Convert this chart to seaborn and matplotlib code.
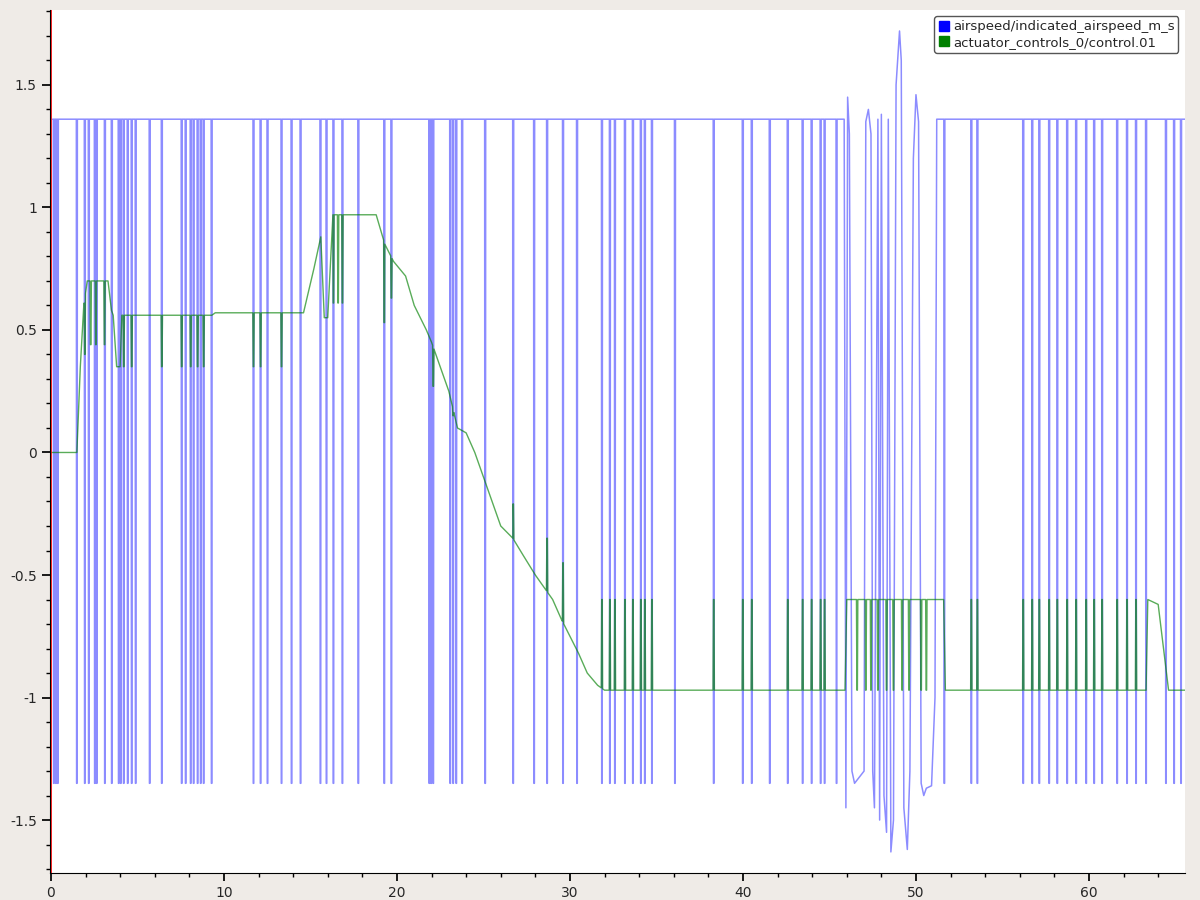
import numpy as np
import matplotlib
matplotlib.use("Agg")
import matplotlib.pyplot as plt
import seaborn as sns
from matplotlib.ticker import MultipleLocator, FuncFormatter
from matplotlib.lines import Line2D

# ---- data ----
blue_high = 1.36
blue_low = -1.35
blue_pulses = [0.17, 0.29, 0.40, 1.50, 1.96, 2.19, 2.54, 2.65, 3.12, 3.52, 3.92, 4.04, 4.21, 4.44,
               4.67, 4.90, 5.71, 6.41, 7.56, 7.79, 8.08, 8.25, 8.48, 8.66, 8.83, 9.29, 11.71, 12.12,
               12.52, 13.33, 13.91, 14.43, 15.58, 15.93, 16.33, 16.85, 17.77, 19.27, 19.68, 21.87,
               21.98, 22.10, 23.08, 23.25, 23.43, 23.77, 25.10, 26.72, 27.93, 28.68, 29.60, 30.41,
               31.85, 32.31, 32.60, 33.18, 33.64, 34.10, 34.33, 34.74, 36.07, 38.31, 39.99, 40.51,
               41.55, 42.59, 43.45, 43.97, 44.49, 44.72, 45.41, 51.64, 53.20, 53.55, 56.20, 56.72,
               57.13, 57.70, 58.17, 58.74, 59.26, 59.84, 60.30, 60.76, 61.63, 62.20, 62.72, 63.30,
               64.45, 64.92, 65.32]
osc_t = [45.85, 45.95, 46.05, 46.15, 46.3, 46.45, 47.0, 47.1, 47.25, 47.4, 47.5, 47.6, 47.8, 47.9,
         48.0, 48.15, 48.3, 48.4, 48.55, 48.7, 48.85, 49.05, 49.15, 49.3, 49.5, 49.65, 49.85, 50.0,
         50.15, 50.3, 50.45, 50.6, 50.9, 51.1, 51.2]
osc_v = [1.36, -1.45, 1.45, 1.3, -1.3, -1.35, -1.3, 1.35, 1.40, 1.30, -1.3, -1.45, 1.36, -1.5,
         1.38, -1.4, -1.55, 1.36, -1.63, -1.5, 1.5, 1.72, 1.6, -1.45, -1.62, -1.3, 1.2, 1.46,
         1.35, -1.35, -1.40, -1.37, -1.36, -1.0, 1.36]

green_t = [0, 1.5, 1.7, 1.9, 2.1, 3.3, 3.5, 3.6, 3.8, 4.0, 4.1, 9.3, 9.5, 14.3, 14.6, 15.2, 15.6,
           15.8, 16.0, 16.3, 18.8, 19.3, 19.8, 20.5, 21.0, 21.7, 22.0, 22.5, 23.0, 23.5, 24.0,
           24.5, 25.0, 25.5, 26.0, 26.7, 27.3, 28.0, 28.5, 29.0, 29.5, 30.0, 30.5, 31.0, 31.6,
           32.0, 45.9, 46.0, 51.6, 51.7, 63.3, 63.4, 64.0, 64.6, 65.6]
green_v = [0, 0, 0.35, 0.6, 0.7, 0.7, 0.58, 0.56, 0.35, 0.35, 0.56, 0.56, 0.57, 0.57, 0.57, 0.75,
           0.88, 0.55, 0.55, 0.97, 0.97, 0.85, 0.78, 0.72, 0.6, 0.5, 0.45, 0.35, 0.25, 0.1, 0.08,
           0.0, -0.1, -0.2, -0.3, -0.35, -0.42, -0.5, -0.55, -0.6, -0.68, -0.75, -0.82, -0.9,
           -0.95, -0.97, -0.97, -0.6, -0.6, -0.97, -0.97, -0.6, -0.62, -0.97, -0.97]
green_spike_t = [1.96, 2.3, 2.6, 3.1, 4.21, 4.67, 6.41, 7.56, 8.08, 8.48, 8.83, 11.71, 12.12, 13.33,
                 16.33, 16.6, 16.85, 19.27, 19.68, 22.10, 23.25, 26.72, 28.68, 29.60,
                 31.85, 32.31, 32.60, 33.18, 33.64, 34.10, 34.33, 34.74, 38.31, 39.99, 40.51,
                 42.59, 43.45, 43.97, 44.49, 44.72, 46.6, 47.1, 47.4, 47.8, 48.3, 48.7, 49.2,
                 49.6, 50.3, 50.6, 53.20, 53.55, 56.20, 56.72, 57.13, 57.70, 58.17, 58.74, 59.26,
                 59.84, 60.30, 60.76, 61.63, 62.20, 62.72]
green_spike_v = [0.4, 0.44, 0.44, 0.44, 0.35, 0.35, 0.35, 0.35, 0.35, 0.35, 0.35, 0.35, 0.35, 0.35,
                 0.61, 0.61, 0.61, 0.53, 0.63, 0.27, 0.15, -0.21, -0.35, -0.45,
                 -0.6, -0.6, -0.6, -0.6, -0.6, -0.6, -0.6, -0.6, -0.6, -0.6, -0.6,
                 -0.6, -0.6, -0.6, -0.6, -0.6, -0.97, -0.97, -0.97, -0.97, -0.97, -0.97, -0.97,
                 -0.97, -0.97, -0.97, -0.6, -0.6, -0.6, -0.6, -0.6, -0.6, -0.6, -0.6, -0.6,
                 -0.6, -0.6, -0.6, -0.6, -0.6, -0.6]
legend_labels = ["airspeed/indicated_airspeed_m_s", "actuator_controls_0/control.01"]

# ---- build series ----
bt, bv = [0.1], [blue_high]
for p in blue_pulses:
    bt += [p - 0.03, p - 0.015, p + 0.015, p + 0.03]
    bv += [blue_high, blue_low, blue_low, blue_high]
bt += osc_t
bv += osc_v
bt.append(65.6); bv.append(blue_high)
order = np.argsort(bt, kind="stable")
bt = np.array(bt)[order]; bv = np.array(bv)[order]

gt, gv = list(green_t), list(green_v)
for t, v in zip(green_spike_t, green_spike_v):
    base_l = float(np.interp(t - 0.04, green_t, green_v))
    base_r = float(np.interp(t + 0.04, green_t, green_v))
    gt += [t - 0.04, t - 0.015, t + 0.015, t + 0.04]
    gv += [base_l, v, v, base_r]
order = np.argsort(gt, kind="stable")
gt = np.array(gt)[order]; gv = np.array(gv)[order]

# ---- plot ----
sns.set_theme(style="white")
plt.rcParams['font.family'] = ['DejaVu Sans']
fig = plt.figure(figsize=(12, 9), dpi=100, facecolor="#efebe7")
ax = fig.add_axes([0.0417, 0.03, 0.9458, 0.959])
ax.set_facecolor("white")
sns.lineplot(x=bt, y=bv, ax=ax, color="#0000ff", alpha=0.45, linewidth=1.1, sort=False, estimator=None)
sns.lineplot(x=gt, y=gv, ax=ax, color="#008000", alpha=0.65, linewidth=1.0, sort=False, estimator=None)
ax.axvline(0, color="red", linewidth=1.2)
ax.set_xlim(-0.05, 65.55)
ax.set_ylim(-1.716, 1.806)
ax.xaxis.set_major_locator(MultipleLocator(10))
ax.xaxis.set_minor_locator(MultipleLocator(2))
ax.yaxis.set_major_locator(MultipleLocator(0.5))
ax.yaxis.set_minor_locator(MultipleLocator(0.1))
ax.yaxis.set_major_formatter(FuncFormatter(lambda v, p: f"{v:g}"))
ax.tick_params(axis="both", which="major", length=6, labelsize=10, direction="out",
               left=True, bottom=True, color="black")
ax.tick_params(axis="both", which="minor", length=3, direction="out", left=True, bottom=True, color="black")
for s in ["top", "right"]:
    ax.spines[s].set_visible(False)
for s in ["left", "bottom"]:
    ax.spines[s].set_color("black")
    ax.spines[s].set_linewidth(0.8)
handles = [Line2D([], [], marker="s", linestyle="none", color="#0000ff", markersize=7),
           Line2D([], [], marker="s", linestyle="none", color="#008000", markersize=7)]
leg = ax.legend(handles, legend_labels, loc="upper right", fontsize=9.5, handletextpad=0.3,
                handlelength=0.8, borderpad=0.3, labelspacing=0.2, framealpha=1,
                edgecolor="#555555", fancybox=True)
leg.get_frame().set_linewidth(1.0)
fig.savefig("out.png", dpi=100, facecolor=fig.get_facecolor())
